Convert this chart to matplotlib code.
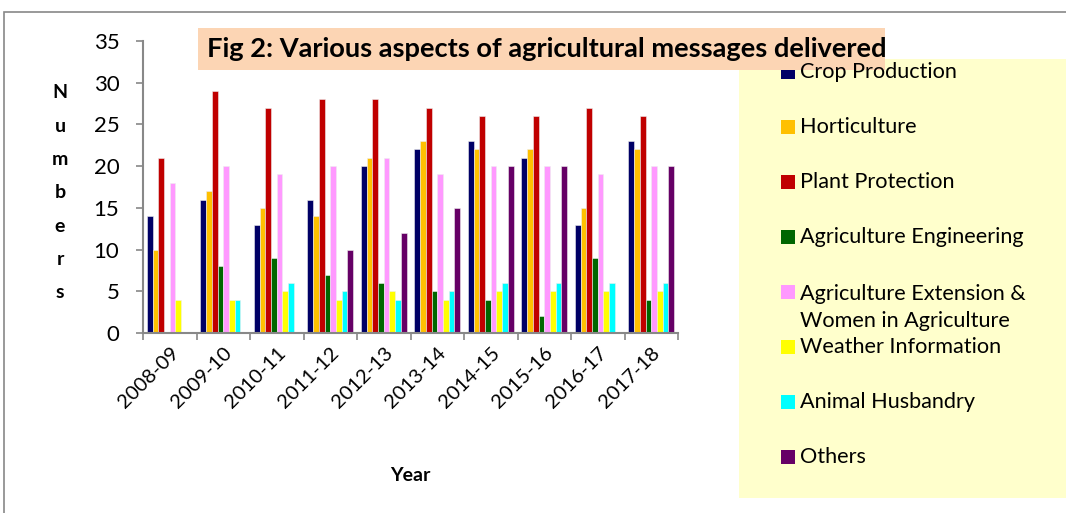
import matplotlib
matplotlib.use("Agg")
import matplotlib.pyplot as plt
import numpy as np
from matplotlib.patches import Rectangle

years = ["2008-09", "2009-10", "2010-11", "2011-12", "2012-13",
         "2013-14", "2014-15", "2015-16", "2016-17", "2017-18"]
series_names = ["Crop Production", "Horticulture", "Plant Protection",
                "Agriculture Engineering",
                "Agriculture Extension &\nWomen in Agriculture",
                "Weather Information", "Animal Husbandry", "Others"]
crop_production = [14, 16, 13, 16, 20, 22, 23, 21, 13, 23]
horticulture = [10, 17, 15, 14, 21, 23, 22, 22, 15, 22]
plant_protection = [21, 29, 27, 28, 28, 27, 26, 26, 27, 26]
agri_engineering = [0, 8, 9, 7, 6, 5, 4, 2, 9, 4]
agri_extension = [18, 20, 19, 20, 21, 19, 20, 20, 19, 20]
weather_info = [4, 4, 5, 4, 5, 4, 5, 5, 5, 5]
animal_husbandry = [0, 4, 6, 5, 4, 5, 6, 6, 6, 6]
others = [0, 0, 0, 10, 12, 15, 20, 20, 0, 20]
series_values = [crop_production, horticulture, plant_protection,
                 agri_engineering, agri_extension, weather_info,
                 animal_husbandry, others]
colors = ["#000066", "#FFC000", "#C00000", "#006600", "#FF99FF",
          "#FFFF00", "#00FFFF", "#660066"]

plt.rcParams['font.family'] = ['Lato', 'DejaVu Sans']

W, H = 1066, 513
fig = plt.figure(figsize=(W / 100, H / 100), dpi=100)

# outer chart border
fig.patches.append(Rectangle((4 / W, -0.1), 1.2, (H - 12) / H + 0.1,
                             transform=fig.transFigure, fill=False,
                             edgecolor="#888888", linewidth=1.2))

ax = fig.add_axes([143 / W, 180 / H, 535 / W, 292 / H])
x = np.arange(len(years))
n = len(series_values)
bw = 0.107
for i, (vals, c) in enumerate(zip(series_values, colors)):
    ax.bar(x + (i - (n - 1) / 2) * bw, vals, width=bw, color=c,
           edgecolor="#eeeeee", linewidth=0.4)

ax.set_xlim(-0.5, len(years) - 0.5)
ax.set_ylim(0, 35)
ax.set_yticks(range(0, 36, 5))
ax.tick_params(axis='y', labelsize=16, length=5, color="#888888", width=1.2, pad=12)
ax.set_xticks(x)
ax.set_xticklabels(years, rotation=45, ha='right', rotation_mode='anchor', fontsize=14.5)
ax.tick_params(axis='x', which='major', length=0, pad=8)
ax.set_xticks(np.arange(-0.5, len(years), 1), minor=True)
ax.tick_params(axis='x', which='minor', length=5, color="#888888", width=1.2)
for s in ["top", "right"]:
    ax.spines[s].set_visible(False)
for s in ["left", "bottom"]:
    ax.spines[s].set_color("#888888")
    ax.spines[s].set_linewidth(1.5)

ax.set_ylabel("N\nu\nm\nb\ne\nr\ns", rotation=0, fontsize=14, fontweight='bold',
              linespacing=2.17, va='center', ha='center')
ax.yaxis.set_label_coords(-(143 - 60) / 535, 0.48)
ax.set_xlabel("Year", fontsize=14, fontweight='bold')
ax.xaxis.set_label_coords((410 - 143) / 535, -(467 - 333) / 292)

# title box
fig.patches.append(Rectangle((198 / W, 1 - 70 / H), (885 - 198) / W, 42 / H,
                             transform=fig.transFigure, facecolor="#FCD5B4",
                             edgecolor="none", zorder=3))
fig.text(207 / W, 1 - 49 / H, "Fig 2: Various aspects of agricultural messages delivered",
         fontsize=19.6, fontweight='bold', va='center', ha='left', zorder=4)

# legend box
fig.patches.append(Rectangle((739 / W, 1 - 498 / H), 1.0, (498 - 59) / H,
                             transform=fig.transFigure, facecolor="#FFFFCC",
                             edgecolor="none", zorder=0))
legend_y = [72, 127, 182, 237, 292, 347, 402, 457]
for name, c, yy in zip(series_names, colors, legend_y):
    fig.patches.append(Rectangle((781 / W, 1 - (yy + 7) / H), 14 / W, 14 / H,
                                 transform=fig.transFigure, facecolor=c,
                                 edgecolor="none", zorder=2))
    if "\n" in name:
        fig.text(800 / W, 1 - (yy - 8) / H, name, fontsize=15.6, va='top',
                 ha='left', linespacing=1.45)
    else:
        fig.text(800 / W, 1 - yy / H, name, fontsize=15.6, va='center', ha='left')

fig.savefig("out.png", dpi=100)
